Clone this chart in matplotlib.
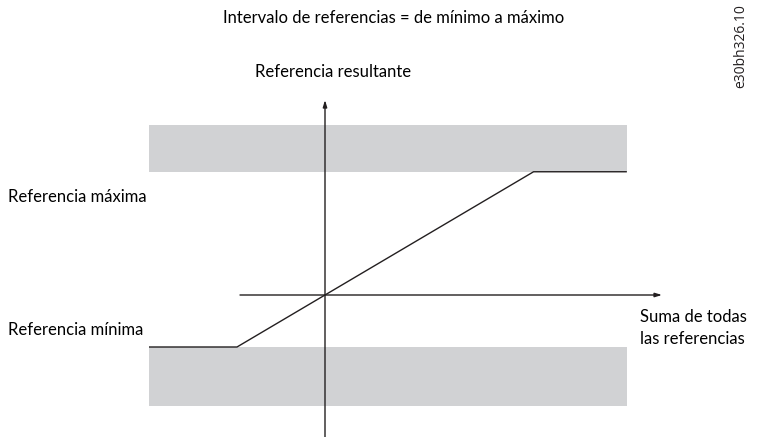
import numpy as np
import matplotlib
matplotlib.use("Agg")
import matplotlib.pyplot as plt

# diagram values (arbitrary units, origin at axis crossing)
ref_min = -1.0
ref_max = 2.37
band_x = [-2.0, 3.43]
band_lo = [-2.13, -1.0]      # bottom gray band (below minimum)
band_hi = [2.37, 3.27]       # top gray band (above maximum)
sum_x = np.array([-2.0, ref_min, ref_max, 3.43])
ref_y = np.clip(sum_x, ref_min, ref_max)

title = "Intervalo de referencias = de mínimo a máximo"
y_label = "Referencia resultante"
x_label = "Suma de todas\nlas referencias"
max_label = "Referencia máxima"
min_label = "Referencia mínima"
code = "e30bh326.10"

plt.rcParams['font.family'] = ['Lato', 'DejaVu Sans']

fig = plt.figure(figsize=(7.58, 4.37), dpi=100)
ax = fig.add_axes([0, 0, 1, 1])
ax.set_xlim(-325 / 88, (758 - 325) / 88)
ax.set_ylim(-(437 - 295) / 52, 295 / 52)
ax.axis("off")

gray = "#d1d2d4"
ax.fill_between(band_x, band_lo[0], band_lo[1], color=gray, lw=0)
ax.fill_between(band_x, band_hi[0], band_hi[1], color=gray, lw=0)

# axes with arrows
ax.annotate("", xy=(3.83, 0), xytext=(-0.966, 0),
            arrowprops=dict(arrowstyle="-|>,head_length=0.4,head_width=0.12",
                            color="#231f20", lw=1.0, shrinkA=0, shrinkB=0))
ax.annotate("", xy=(0, 3.75), xytext=(0, -2.75),
            arrowprops=dict(arrowstyle="-|>,head_length=0.4,head_width=0.12",
                            color="#231f20", lw=1.0, shrinkA=0, shrinkB=0))

ax.plot(sum_x, ref_y, color="#231f20", lw=1.0, solid_capstyle="butt")

fs = 12
ax.text(394 / 758, 1 - 18 / 437, title, transform=fig.transFigure,
        ha="center", va="center", fontsize=fs)
ax.text(333 / 758, 1 - 72 / 437, y_label, transform=fig.transFigure,
        ha="center", va="center", fontsize=fs)
ax.text(8 / 758, 1 - 197 / 437, max_label, transform=fig.transFigure,
        ha="left", va="center", fontsize=fs)
ax.text(8 / 758, 1 - 330 / 437, min_label, transform=fig.transFigure,
        ha="left", va="center", fontsize=fs)
ax.text(640 / 758, 1 - 328 / 437, x_label, transform=fig.transFigure,
        ha="left", va="center", fontsize=fs, linespacing=1.45)
ax.text(741 / 758, 1 - 46 / 437, code, transform=fig.transFigure,
        ha="center", va="center", fontsize=10, rotation=90,
        family=['Open Sans', 'DejaVu Sans'], color="#231f20")

fig.savefig("out.png", dpi=100)
